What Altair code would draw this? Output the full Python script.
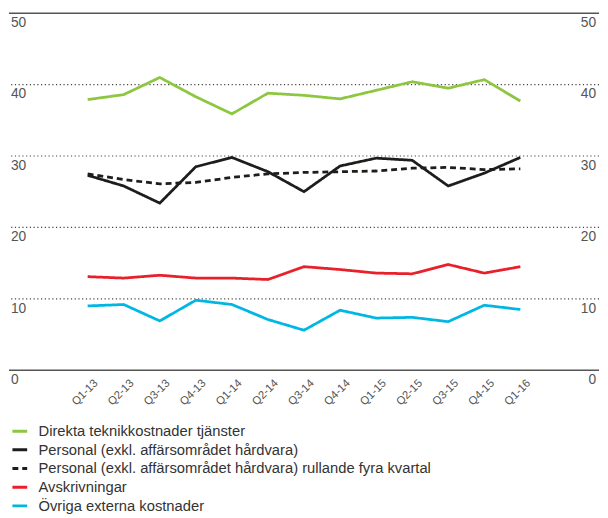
import altair as alt
import pandas as pd

quarters = ["Q1-13", "Q2-13", "Q3-13", "Q4-13", "Q1-14", "Q2-14", "Q3-14",
            "Q4-14", "Q1-15", "Q2-15", "Q3-15", "Q4-15", "Q1-16"]
direkta = [37.9, 38.6, 41.0, 38.3, 35.9, 38.8, 38.5, 38.0, 39.2, 40.4, 39.5, 40.7, 37.7]
personal = [27.3, 25.8, 23.4, 28.5, 29.8, 27.8, 25.0, 28.6, 29.7, 29.4, 25.8, 27.6, 29.8]
rullande = [27.5, 26.7, 26.1, 26.3, 27.0, 27.5, 27.7, 27.8, 27.9, 28.3, 28.4, 28.1, 28.2]
avskr = [13.1, 12.9, 13.3, 12.9, 12.9, 12.7, 14.5, 14.1, 13.6, 13.5, 14.8, 13.6, 14.5]
ovriga = [9.0, 9.2, 6.9, 9.8, 9.2, 7.1, 5.6, 8.4, 7.3, 7.4, 6.8, 9.1, 8.5]

series_names = [
    "Direkta teknikkostnader tjänster",
    "Personal (exkl. affärsområdet hårdvara)",
    "Personal (exkl. affärsområdet hårdvara) rullande fyra kvartal",
    "Avskrivningar",
    "Övriga externa kostnader",
]
series_values = [direkta, personal, rullande, avskr, ovriga]
colors = ["#8DC63F", "#1d1d1b", "#1d1d1b", "#E8202A", "#00B6E3"]
dashes = [[1, 0], [1, 0], [6, 4], [1, 0], [1, 0]]

dotted_ticks = [10, 20, 30, 40]
solid_ticks = [0, 50]
label_ticks = [0, 10, 20, 30, 40, 50]

rows = []
for name, vals in zip(series_names, series_values):
    for i, (q, v) in enumerate(zip(quarters, vals)):
        rows.append({"q": q, "i": i, "v": v, "s": name})
df = pd.DataFrame(rows)

FONT = "Liberation Sans"
yscale = alt.Scale(domain=[0, 50], nice=False, zero=True)
xscale = alt.Scale(type="point", padding=0, range=[80, 520])

dotted = alt.Chart(pd.DataFrame({"v": dotted_ticks})).mark_rule(
    color="#444", strokeWidth=1.2, strokeDash=[1.2, 2.6]
).encode(y=alt.Y("v:Q", scale=yscale, axis=None))

solid = alt.Chart(pd.DataFrame({"v": solid_ticks})).mark_rule(
    color="#555", strokeWidth=1.6
).encode(y=alt.Y("v:Q", scale=yscale, axis=None))

left_labels = alt.Chart(pd.DataFrame({"v": label_ticks})).mark_text(
    align="left", baseline="top", dy=3, fontSize=14, color="#555", font=FONT
).encode(x=alt.value(2), y=alt.Y("v:Q", scale=yscale, axis=None), text="v:Q")

right_labels = alt.Chart(pd.DataFrame({"v": label_ticks})).mark_text(
    align="right", baseline="top", dy=3, fontSize=14, color="#555", font=FONT
).encode(x=alt.value(597), y=alt.Y("v:Q", scale=yscale, axis=None), text="v:Q")

legend = alt.Legend(
    title=None, orient="none", legendX=2, legendY=416, direction="vertical",
    symbolType="stroke", symbolSize=225, symbolStrokeWidth=3,
    labelFontSize=15, labelFont=FONT, labelColor="#333", labelOffset=10,
    rowPadding=2, padding=0, labelLimit=0,
)

lines = alt.Chart(df).mark_line(strokeWidth=2.8).encode(
    x=alt.X("q:N", sort=quarters, scale=xscale, title=None,
            axis=alt.Axis(labelAngle=-45, ticks=False, domain=False, grid=False,
                          labelColor="#555", labelFontSize=11.5, labelFont=FONT,
                          labelPadding=7, labelOffset=4)),
    y=alt.Y("v:Q", scale=yscale, axis=None),
    color=alt.Color("s:N", scale=alt.Scale(domain=series_names, range=colors), legend=legend),
    strokeDash=alt.StrokeDash("s:N", scale=alt.Scale(domain=series_names, range=dashes), legend=legend),
    order=alt.Order("i:Q"),
)

chart = alt.layer(dotted, solid, left_labels, right_labels, lines).properties(
    width=600, height=363, padding=0
).configure_view(stroke=None)

chart.save("out.html", embed_options={"renderer": "svg", "actions": False})
